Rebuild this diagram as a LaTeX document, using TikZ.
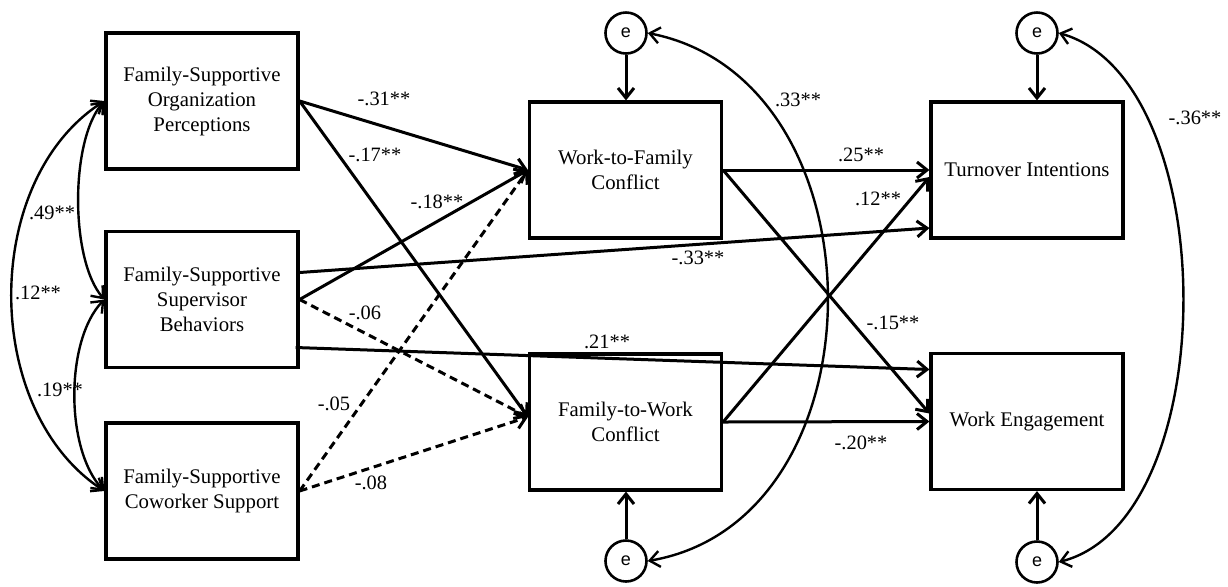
\documentclass[tikz,border=0pt]{standalone}
\usepackage{fontspec}
\setmainfont{Liberation Serif}
\newfontfamily\errfont{Liberation Sans}
\usetikzlibrary{arrows.meta,calc}

\begin{document}
\begin{tikzpicture}[x=0.5pt,y=-0.5pt,
  var/.style={draw,line width=1.6pt,minimum width=96pt,minimum height=68pt,
    inner sep=0pt,align=center,font=\fontsize{10.4}{12.5}\selectfont},
  err/.style={draw,circle,line width=1.3pt,minimum size=20.5pt,inner sep=0pt,
    font=\errfont\fontsize{9}{10}\selectfont},
  tipbarb/.tip={Straight Barb[length=5pt,width=8pt]},
  reg/.style={line width=1.5pt,-tipbarb},
  ns/.style={reg,dash pattern=on 4pt off 2.5pt},
  cov/.style={line width=1.2pt,tipbarb-tipbarb},
  lab/.style={font=\fontsize{10.2}{12}\selectfont,inner sep=0pt}
]
\useasboundingbox (0,0) rectangle (1228,586);

% observed variables
\node[var] (FSOP) at (202,101)   {Family-Supportive\\Organization\\Perceptions};
\node[var] (FSSB) at (202,299.5) {Family-Supportive\\Supervisor\\Behaviors};
\node[var] (FSCS) at (202,491)   {Family-Supportive\\Coworker Support};
\node[var] (WFC)  at (625.5,170) {Work-to-Family\\Conflict};
\node[var] (FWC)  at (625.5,422) {Family-to-Work\\Conflict};
\node[var] (TI)   at (1027,170)  {Turnover Intentions};
\node[var] (WE)   at (1027,421.5){Work Engagement};

% residuals
\node[err] (eW) at (626,33)  {e};
\node[err] (eF) at (626,561) {e};
\node[err] (eT) at (1037,33) {e};
\node[err] (eE) at (1037,562){e};

\draw[reg] (eW) -- (eW |- WFC.north);
\draw[reg] (eF) -- (eF |- FWC.south);
\draw[reg] (eT) -- (eT |- TI.north);
\draw[reg] (eE) -- (eE |- WE.south);

% structural paths
\draw[reg] (FSOP.east) -- (WFC.west);
\draw[reg] (FSOP.east) -- ($(FWC.west)+(0,-5)$);
\draw[reg] (FSSB.east) -- (WFC.west);
\draw[reg] ($(FSSB.east)+(0,-27)$) -- ($(TI.west)+(0,58)$);
\draw[ns]  (FSSB.east) -- ($(FWC.west)+(0,-5)$);
\draw[reg] ($(FSSB.east)+(-4,48)$) -- ($(WE.west)+(0,-52)$);
\draw[ns]  (FSCS.east) -- (WFC.west);
\draw[ns]  (FSCS.east) -- ($(FWC.west)+(0,-5)$);
\draw[reg] (WFC.east) -- (TI.west);
\draw[reg] (WFC.east) -- ($(WE.west)+(0,-8)$);
\draw[reg] (FWC.east) -- ($(TI.west)+(0,7)$);
\draw[reg] (FWC.east) -- (WE.west);

% covariances
\draw[cov] (FSOP.west) .. controls (70,140) and (70,260) .. (FSSB.west);
\draw[cov] (FSOP.west) .. controls (-19,180) and (-19,410) .. (FSCS.west);
\draw[cov] (FSSB.west) .. controls (65,340) and (65,450) .. (FSCS.west);
\draw[cov] (eW.east) .. controls (887,80) and (887,520) .. (eF.east);
\draw[cov] (eT.east) .. controls (1224,80) and (1224,520) .. (eE.east);

% coefficients
\node[lab] (c49) at (52,213)  {.49**};
\node[lab] (c12) at (38,293)  {.12**};
\node[lab] (c19) at (60,390)  {.19**};
\node[lab] (p31) at (384,99)  {-.31**};
\node[lab] (p17) at (375,155) {-.17**};
\node[lab] (p18) at (437,202) {-.18**};
\node[lab] (p33) at (698,258) {-.33**};
\node[lab] (p06) at (365,313) {-.06};
\node[lab] (p21) at (607,342) {.21**};
\node[lab] (p05) at (334,404) {-.05};
\node[lab] (p08) at (371,483) {-.08};
\node[lab] (p25) at (861,155) {.25**};
\node[lab] (p12) at (878,199) {.12**};
\node[lab] (p15) at (893,323) {-.15**};
\node[lab] (p20) at (861,443) {-.20**};
\node[lab] (r33) at (798,100) {.33**};
\node[lab] (r36) at (1195,118){-.36**};
\end{tikzpicture}
\end{document}
